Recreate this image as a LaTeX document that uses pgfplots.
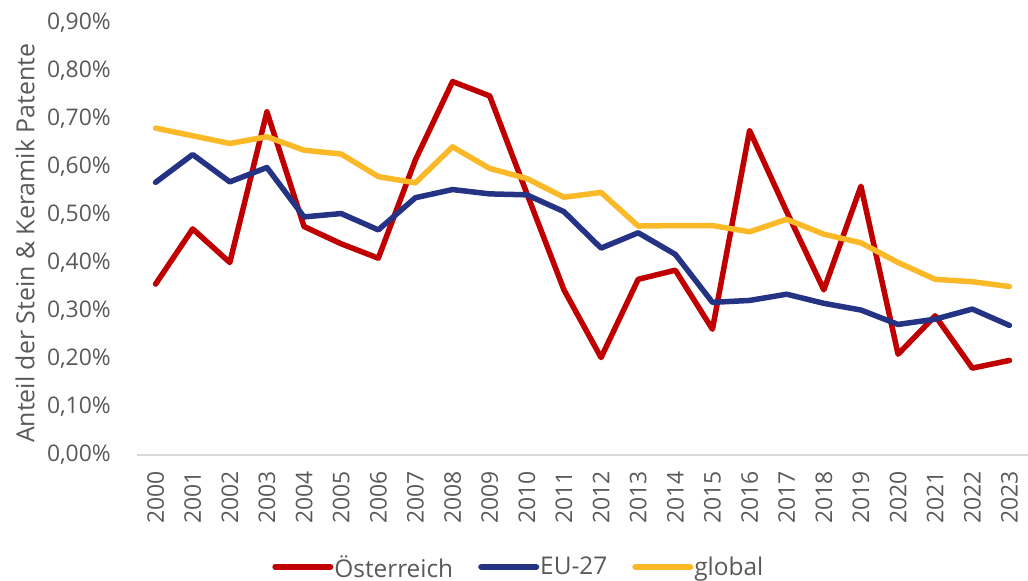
\documentclass[border=0pt]{standalone}
\usepackage{pgfplots}
\pgfplotsset{compat=1.18}
\usepackage{fontspec}
\setmainfont{Open Sans}
\definecolor{cAT}{HTML}{C00000}
\definecolor{cEU}{HTML}{253385}
\definecolor{cGL}{HTML}{FBB927}
\definecolor{txt}{HTML}{595959}
\definecolor{axl}{HTML}{D9D9D9}
\begin{document}
\begin{tikzpicture}
\path[use as bounding box] (0,0) rectangle (1028bp,581bp);
\begin{axis}[
  at={(137bp,126bp)}, anchor=south west,
  scale only axis, width=891bp, height=432bp,
  xmin=-0.5, xmax=23.5, ymin=0, ymax=0.9,
  axis y line*=left,
  y axis line style={draw=none},
  axis x line*=bottom,
  x axis line style={draw=axl, line width=1.2bp, -},
  xtick={0,...,23},
  xticklabels={2000,2001,2002,2003,2004,2005,2006,2007,2008,2009,2010,2011,2012,2013,2014,2015,2016,2017,2018,2019,2020,2021,2022,2023},
  ytick={0,0.1,...,0.9},
  major tick length=0pt,
  tick style={draw=none},
  font=\fontsize{23}{27}\selectfont,
  xticklabel style={rotate=90, anchor=east, inner sep=0pt, xshift=-16bp, text=txt, font=\fontsize{23}{27}\selectfont},
  yticklabel style={anchor=east, inner sep=0pt, xshift=-26bp, text=txt, font=\fontsize{23}{27}\selectfont},
  yticklabel={\pgfmathprintnumber[fixed, fixed zerofill, precision=2, use comma]{\tick}\%},
  /pgf/number format/assume math mode=true,
  ylabel={Anteil der Stein \& Keramik Patente},
  ylabel style={at={(axis description cs:-0.1257,0.49)}, anchor=center, text=txt, font=\fontsize{25}{29}\selectfont},
  clip=false,
  legend style={at={(0.428,-0.259)}, anchor=center, draw=none, fill=none,
    legend columns=3, text=txt, inner sep=0pt, font=\fontsize{24.5}{28}\selectfont,
    /tikz/every even column/.append style={column sep=24bp},
    nodes={inner sep=1bp}},
  legend image code/.code={\draw[#1, line width=6bp, line cap=round] (0bp,0bp) -- (55bp,0bp);},
  every axis plot/.append style={line width=5.5bp, line join=round, line cap=round},
]
\addplot[cAT] coordinates {
(0,0.356)(1,0.471)(2,0.401)(3,0.715)(4,0.476)(5,0.440)(6,0.410)(7,0.615)(8,0.778)(9,0.748)(10,0.545)(11,0.344)(12,0.203)(13,0.366)(14,0.385)(15,0.262)(16,0.676)(17,0.507)(18,0.344)(19,0.560)(20,0.210)(21,0.290)(22,0.181)(23,0.197)};
\addlegendentry{Österreich}
\addplot[cEU] coordinates {
(0,0.568)(1,0.626)(2,0.569)(3,0.599)(4,0.496)(5,0.503)(6,0.469)(7,0.536)(8,0.553)(9,0.544)(10,0.542)(11,0.507)(12,0.431)(13,0.463)(14,0.418)(15,0.318)(16,0.322)(17,0.335)(18,0.316)(19,0.302)(20,0.272)(21,0.283)(22,0.304)(23,0.270)};
\addlegendentry{EU-27}
\addplot[cGL] coordinates {
(0,0.681)(1,0.665)(2,0.649)(3,0.663)(4,0.635)(5,0.627)(6,0.580)(7,0.567)(8,0.642)(9,0.597)(10,0.576)(11,0.537)(12,0.547)(13,0.477)(14,0.478)(15,0.478)(16,0.465)(17,0.491)(18,0.460)(19,0.442)(20,0.401)(21,0.366)(22,0.361)(23,0.351)};
\addlegendentry{global}
\end{axis}
\end{tikzpicture}
\end{document}
